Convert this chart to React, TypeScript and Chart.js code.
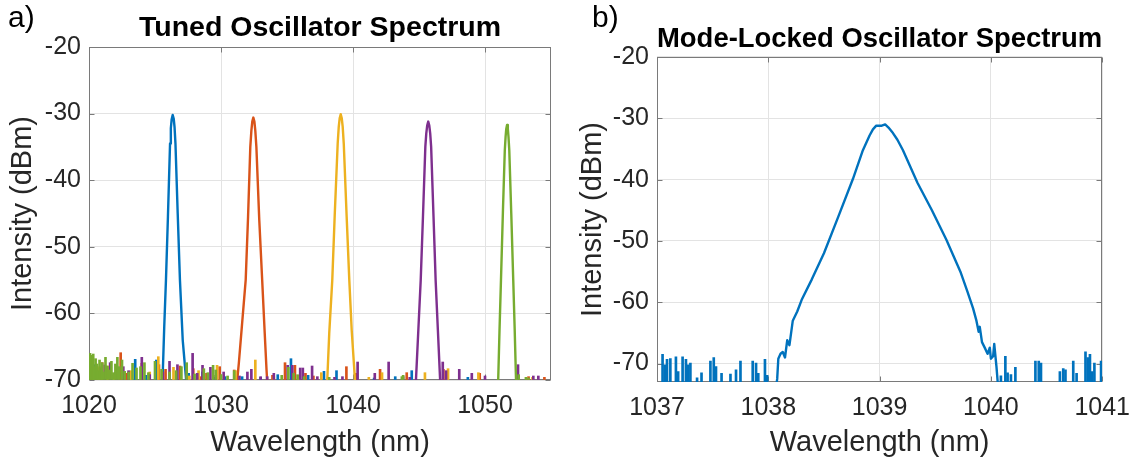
import { useEffect, useRef } from 'react';
import { Chart, registerables } from 'chart.js';

Chart.register(...registerables);

const FONT = '"Liberation Sans", Arial, Helvetica, sans-serif';
const TXT = '#262626';
const GRID = '#e3e3e3';
const FRAME = '#7a7a7a';

const BLUE = '#0072BD';
const ORANGE = '#D95319';
const YELLOW = '#EDB120';
const PURPLE = '#7E2F8E';
const GREEN = '#77AC30';

// ---------- Panel a) Tuned oscillator ----------
const leftXTicks = [1020, 1030, 1040, 1050];
const leftYTicks = [-70, -60, -50, -40, -30, -20];

const bluePeakWl = [1025.45, 1025.58, 1025.7, 1025.83, 1025.98, 1026.14, 1026.2, 1026.26, 1026.34, 1026.42, 1026.48, 1026.55, 1026.72, 1026.89, 1027.1, 1027.35, 1027.45];
const bluePeakDb = [-72, -69.5, -62, -55, -45.5, -34.5, -32.2, -30.9, -30.2, -30.8, -32, -34.5, -45, -55, -64, -69.8, -72];

const orangePeakWl = [1031.1, 1031.25, 1031.35, 1031.6, 1031.87, 1032.05, 1032.22, 1032.3, 1032.37, 1032.45, 1032.53, 1032.6, 1032.68, 1032.9, 1033.12, 1033.3, 1033.45, 1033.55];
const orangePeakDb = [-72, -69.6, -67.5, -61.5, -55, -45.5, -35, -32.6, -31.2, -30.6, -31.2, -32.6, -35, -46, -55, -62.5, -68.5, -72];

const yellowPeakWl = [1037.95, 1038.05, 1038.2, 1038.43, 1038.62, 1038.84, 1038.92, 1038.99, 1039.07, 1039.15, 1039.22, 1039.3, 1039.52, 1039.72, 1039.9, 1040.15, 1040.25];
const yellowPeakDb = [-72, -70, -63, -55, -45, -34.5, -32, -30.7, -30.1, -30.7, -32, -34.5, -45.5, -55, -62.5, -70, -72];

const purplePeakWl = [1044.68, 1044.77, 1044.95, 1045.13, 1045.3, 1045.48, 1045.55, 1045.62, 1045.7, 1045.78, 1045.85, 1045.92, 1046.1, 1046.26, 1046.43, 1046.6, 1046.68];
const purplePeakDb = [-72, -70, -62.5, -55, -45.5, -35, -33, -31.8, -31.2, -31.8, -33, -35, -45.5, -55, -62.5, -70, -72];

const greenPeakWl = [1050.93, 1051.0, 1051.1, 1051.21, 1051.36, 1051.5, 1051.56, 1051.61, 1051.67, 1051.73, 1051.78, 1051.84, 1051.99, 1052.14, 1052.25, 1052.35, 1052.42];
const greenPeakDb = [-72, -70, -62.5, -55, -44.5, -35.5, -33.5, -32.3, -31.7, -32.3, -33.5, -35.5, -45, -55, -62.5, -70, -72];

const blueNoiseWl = [1020.05, 1020.38, 1020.7, 1021.2, 1021.7, 1022.0, 1023.5, 1024.3, 1025.1, 1027.55, 1028.6, 1029.5, 1030.3, 1031.6, 1033.0, 1034.3, 1035.3, 1036.6, 1037.8, 1038.75, 1041.6, 1043.2, 1044.45, 1048.7];
const blueNoiseDb = [-68.6, -67.7, -68.2, -69.0, -69.3, -68.9, -66.9, -69.3, -67.0, -69.0, -68.8, -69.6, -69.5, -69.5, -69.6, -69.2, -66.8, -69.3, -68.7, -68.6, -69.7, -69.5, -68.6, -69.6];

const orangeNoiseWl = [1020.2, 1020.6, 1021.0, 1021.5, 1022.4, 1022.8, 1023.0, 1024.0, 1025.3, 1025.8, 1026.9, 1027.9, 1028.5, 1028.9, 1029.9, 1031.0, 1033.9, 1034.85, 1035.6, 1036.4, 1037.0, 1039.5, 1040.2, 1042.05, 1044.07, 1046.85, 1049.6, 1053.3, 1054.5];
const orangeNoiseDb = [-68.6, -68.0, -67.4, -68.5, -65.9, -69.0, -68.8, -67.5, -67.7, -68.4, -67.9, -68.3, -69.5, -69.0, -68.0, -68.5, -69.3, -67.4, -67.8, -69.0, -69.4, -68.0, -69.0, -68.4, -68.9, -68.4, -69.0, -69.5, -69.6];

const yellowNoiseWl = [1020.3, 1020.8, 1021.4, 1021.9, 1023.2, 1024.6, 1025.25, 1026.4, 1027.6, 1028.3, 1029.7, 1031.1, 1032.6, 1034.0, 1035.9, 1037.6, 1041.2, 1042.2, 1045.45, 1047.2, 1049.5, 1053.6];
const yellowNoiseDb = [-68.5, -68.0, -67.9, -69.2, -68.6, -68.8, -66.5, -68.1, -69.4, -68.6, -67.8, -68.6, -67.0, -69.5, -69.3, -68.9, -69.6, -68.9, -68.9, -68.3, -68.9, -69.6];

const purpleNoiseWl = [1020.2, 1020.5, 1020.9, 1021.2, 1021.6, 1022.1, 1022.6, 1023.0, 1024.0, 1024.6, 1025.6, 1026.1, 1026.7, 1027.4, 1027.85, 1028.2, 1028.6, 1029.2, 1029.6, 1030.2, 1031.4, 1032.0, 1032.3, 1033.0, 1033.5, 1034.0, 1035.05, 1035.4, 1036.0, 1036.2, 1036.9, 1037.3, 1038.6, 1039.2, 1040.35, 1041.65, 1042.7, 1043.8, 1044.3, 1046.8, 1047.05, 1048.05, 1049.0, 1050.0, 1052.5, 1053.66, 1054.04];
const purpleNoiseDb = [-67.8, -69.0, -68.4, -67.75, -67.4, -67.8, -68.0, -68.6, -66.6, -69.2, -68.8, -67.2, -67.7, -68.4, -66.0, -69.0, -67.8, -68.1, -69.3, -68.8, -69.4, -68.8, -68.4, -69.5, -69.5, -69.0, -67.8, -67.8, -68.2, -68.2, -67.9, -69.5, -69.6, -69.5, -67.3, -69.0, -67.3, -69.5, -69.6, -67.3, -68.6, -68.4, -69.0, -69.4, -67.7, -69.4, -69.4];

const greenNoiseWl = [1020.0, 1020.08, 1020.16, 1020.24, 1020.32, 1020.4, 1020.5, 1020.6, 1020.7, 1020.8, 1020.9, 1021.0, 1021.1, 1021.25, 1021.4, 1021.55, 1021.7, 1021.85, 1022.0, 1022.15, 1022.3, 1022.5, 1022.7, 1023.0, 1023.3, 1023.6, 1023.9, 1024.2, 1024.5, 1025.0, 1025.5, 1026.1, 1026.6, 1027.0, 1027.4, 1028.0, 1028.7, 1029.0, 1029.4, 1029.6, 1030.0, 1030.5, 1031.0, 1034.6, 1035.1, 1035.5, 1035.8, 1036.3, 1038.2, 1043.7, 1043.8, 1052.55, 1053.1, 1053.3];
const greenNoiseDb = [-67.2, -66.0, -66.3, -67.5, -66.1, -68.0, -66.8, -67.6, -68.6, -67.0, -68.2, -67.4, -68.8, -66.6, -67.9, -68.5, -67.2, -68.9, -67.6, -66.6, -68.0, -67.0, -68.7, -68.8, -67.5, -68.2, -68.0, -67.4, -68.9, -67.2, -68.4, -68.8, -68.6, -68.0, -67.4, -69.1, -68.3, -68.9, -67.8, -68.5, -69.2, -69.4, -68.6, -69.3, -68.1, -69.0, -69.2, -69.5, -69.6, -69.5, -69.3, -69.2, -69.6, -69.7];

// ---------- Panel b) Mode-locked oscillator ----------
const rightXTicks = [1037, 1038, 1039, 1040, 1041];
const rightYTicks = [-70, -60, -50, -40, -30, -20];

const mlCurveWl = [1038.06, 1038.08, 1038.09, 1038.11, 1038.13, 1038.15, 1038.17, 1038.19, 1038.22, 1038.26, 1038.3, 1038.39, 1038.5, 1038.63, 1038.76, 1038.85, 1038.91, 1038.94, 1038.97, 1039.02, 1039.05, 1039.08, 1039.12, 1039.16, 1039.21, 1039.34, 1039.47, 1039.6, 1039.73, 1039.79, 1039.84, 1039.87, 1039.89, 1039.9, 1039.92, 1039.95, 1039.97, 1039.99, 1040.0, 1040.02, 1040.03, 1040.05, 1040.07];
const mlCurveDb = [-75, -72.5, -69.2, -68.4, -68.1, -69.0, -66.2, -67.0, -63.0, -61.5, -59.6, -56.3, -52.0, -46.0, -39.9, -35.2, -32.8, -31.8, -31.2, -31.2, -31.0, -31.5, -32.4, -33.5, -35.2, -40.5, -45.0, -49.8, -55.2, -58.3, -61.0, -63.0, -64.8, -64.0, -66.5, -67.6, -68.4, -67.4, -69.2, -68.8, -66.8, -70.5, -75];

const mlNoiseWl = [1037.05, 1037.07, 1037.09, 1037.12, 1037.17, 1037.19, 1037.23, 1037.26, 1037.28, 1037.3, 1037.36, 1037.4, 1037.48, 1037.51, 1037.53, 1037.58, 1037.66, 1037.71, 1037.75, 1037.86, 1037.89, 1037.91, 1037.97, 1037.99, 1040.09, 1040.13, 1040.15, 1040.18, 1040.22, 1040.4, 1040.43, 1040.45, 1040.62, 1040.65, 1040.67, 1040.74, 1040.77, 1040.85, 1040.87, 1040.89, 1040.91, 1040.93, 1040.99];
const mlNoiseDb = [-68.5, -70.2, -69.3, -69.2, -68.9, -71.3, -68.9, -69.3, -70.2, -69.9, -72.3, -71.5, -69.6, -69.0, -70.5, -71.6, -71.7, -71.0, -69.6, -69.6, -69.9, -71.6, -69.3, -71.9, -72.0, -68.8, -71.5, -71.8, -70.6, -69.6, -69.6, -69.9, -71.3, -70.8, -71.0, -69.6, -71.6, -68.1, -69.0, -68.5, -71.3, -69.9, -69.6];

const pts = (wl: number[], db: number[]) => wl.map((x, i) => ({ x, y: db[i] }));

const lineDs = (wl: number[], db: number[], color: string, order: number) => ({
  type: 'line' as const,
  data: pts(wl, db),
  borderColor: color,
  backgroundColor: color,
  borderWidth: 2.4,
  borderJoinStyle: 'round' as const,
  pointRadius: 0,
  tension: 0,
  fill: false,
  clip: 0,
  order,
});

const barDs = (wl: number[], db: number[], color: string, order: number, base: number) => ({
  type: 'bar' as const,
  data: pts(wl, db),
  backgroundColor: color,
  borderWidth: 0,
  barThickness: 2,
  grouped: false,
  base,
  clip: 0,
  order,
});

const framePlugin = {
  id: 'matlabFrame',
  beforeDatasetsDraw(chart: any) {
    const { ctx, chartArea: a, scales } = chart;
    ctx.save();
    ctx.strokeStyle = FRAME;
    ctx.lineWidth = 1;
    const l = Math.round(a.left) + 0.5;
    const r = Math.round(a.right) - 0.5;
    const t = Math.round(a.top) + 0.5;
    const b = Math.round(a.bottom) - 0.5;
    ctx.strokeRect(l, t, r - l, b - t);
    const tl = 5;
    ctx.beginPath();
    scales.x.ticks.forEach((tk: any) => {
      const px = Math.round(scales.x.getPixelForValue(tk.value)) + 0.5;
      ctx.moveTo(px, b);
      ctx.lineTo(px, b - tl);
      ctx.moveTo(px, t);
      ctx.lineTo(px, t + tl);
    });
    scales.y.ticks.forEach((tk: any) => {
      const py = Math.round(scales.y.getPixelForValue(tk.value)) + 0.5;
      ctx.moveTo(l, py);
      ctx.lineTo(l + tl, py);
      ctx.moveTo(r, py);
      ctx.lineTo(r - tl, py);
    });
    ctx.stroke();
    ctx.restore();
  },
};

interface PanelOpts {
  xMin: number; xMax: number; yMin: number; yMax: number;
  xTicks: number[]; yTicks: number[];
  title: string; yWidth: number; xHeight: number; padRight: number;
  titleTop: number; titleBottom: number;
}

function makeConfig(datasets: any[], o: PanelOpts): any {
  return {
    type: 'line',
    data: { datasets },
    plugins: [framePlugin],
    options: {
      animation: false,
      responsive: false,
      maintainAspectRatio: false,
      events: [],
      layout: { padding: { left: 0, right: o.padRight, top: 0, bottom: 0 } },
      plugins: {
        legend: { display: false },
        tooltip: { enabled: false },
        title: {
          display: true,
          text: o.title,
          fullSize: false,
          color: '#000',
          font: { family: FONT, size: 28.5, weight: 'bold' },
          padding: { top: o.titleTop, bottom: o.titleBottom },
        },
      },
      scales: {
        x: {
          type: 'linear',
          min: o.xMin,
          max: o.xMax,
          offset: false,
          afterBuildTicks: (s: any) => { s.ticks = o.xTicks.map((v) => ({ value: v })); },
          afterFit: (s: any) => { s.height = o.xHeight; },
          ticks: {
            color: TXT, font: { family: FONT, size: 25 }, padding: 11, maxRotation: 0, autoSkip: false,
            callback: (v: any) => String(v),
          },
          grid: { color: GRID, lineWidth: 1, drawTicks: false, offset: false },
          border: { display: false },
          title: {
            display: true,
            text: 'Wavelength (nm)',
            color: TXT,
            font: { family: FONT, size: 29 },
            padding: { top: 0, bottom: 0.6 },
          },
        },
        y: {
          type: 'linear',
          min: o.yMin,
          max: o.yMax,
          beginAtZero: false,
          afterBuildTicks: (s: any) => { s.ticks = o.yTicks.map((v) => ({ value: v })); },
          afterFit: (s: any) => { s.width = o.yWidth; },
          ticks: {
            color: TXT, font: { family: FONT, size: 25 }, padding: 8, autoSkip: false,
            callback: (v: any) => String(v),
          },
          grid: { color: GRID, lineWidth: 1, drawTicks: false },
          border: { display: false },
          title: {
            display: true,
            text: 'Intensity (dBm)',
            color: TXT,
            font: { family: FONT, size: 29 },
            padding: { top: 5.6, bottom: 0 },
          },
        },
      },
    },
  };
}

export default function App() {
  const leftRef = useRef<HTMLCanvasElement>(null);
  const rightRef = useRef<HTMLCanvasElement>(null);

  useEffect(() => {
    document.body.style.margin = '0';
    const leftDatasets = [
      lineDs(greenPeakWl, greenPeakDb, GREEN, 1),
      barDs(greenNoiseWl, greenNoiseDb, GREEN, 1, -70),
      lineDs(purplePeakWl, purplePeakDb, PURPLE, 2),
      barDs(purpleNoiseWl, purpleNoiseDb, PURPLE, 2, -70),
      lineDs(yellowPeakWl, yellowPeakDb, YELLOW, 3),
      barDs(yellowNoiseWl, yellowNoiseDb, YELLOW, 3, -70),
      lineDs(orangePeakWl, orangePeakDb, ORANGE, 4),
      barDs(orangeNoiseWl, orangeNoiseDb, ORANGE, 4, -70),
      lineDs(bluePeakWl, bluePeakDb, BLUE, 5),
      barDs(blueNoiseWl, blueNoiseDb, BLUE, 5, -70),
    ];
    const c1 = new Chart(leftRef.current!, makeConfig(leftDatasets, {
      xMin: 1020, xMax: 1055, yMin: -70, yMax: -20,
      xTicks: leftXTicks, yTicks: leftYTicks,
      title: 'Tuned Oscillator Spectrum',
      yWidth: 89, xHeight: 81, padRight: 19,
      titleTop: 11, titleBottom: 1.8,
    }));
    const rightDatasets = [
      lineDs(mlCurveWl, mlCurveDb, BLUE, 1),
      barDs(mlNoiseWl, mlNoiseDb, BLUE, 1, -73),
    ];
    const c2 = new Chart(rightRef.current!, makeConfig(rightDatasets, {
      xMin: 1037, xMax: 1041, yMin: -73, yMax: -20,
      xTicks: rightXTicks, yTicks: rightYTicks,
      title: 'Mode-Locked Oscillator Spectrum',
      yWidth: 87, xHeight: 79, padRight: 34,
      titleTop: 22.4, titleBottom: 0.4,
    }));
    return () => {
      c1.destroy();
      c2.destroy();
    };
  }, []);

  return (
    <div style={{ position: 'relative', width: 1141, height: 461, background: '#fff', fontFamily: FONT, overflow: 'hidden' }}>
      <canvas ref={leftRef} width={570} height={461} style={{ position: 'absolute', left: 0, top: 0 }} />
      <canvas ref={rightRef} width={571} height={461} style={{ position: 'absolute', left: 570, top: 0 }} />
      <div style={{ position: 'absolute', left: 8, top: 1, fontSize: 30, lineHeight: '32px', color: '#000' }}>a)</div>
      <div style={{ position: 'absolute', left: 592, top: 1, fontSize: 30, lineHeight: '32px', color: '#000' }}>b)</div>
    </div>
  );
}
